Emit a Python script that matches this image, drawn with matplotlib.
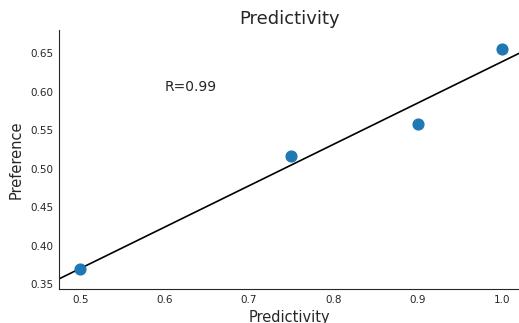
import numpy as np
import seaborn as sns
from matplotlib import pyplot as plt

sns.set_style("white")

# --- data ---
predictivity = [0.5, 0.75, 0.9, 1.0]
preference = [0.37, 0.516, 0.558, 0.655]

x = np.array(predictivity)
y = np.array(preference)
slope, intercept = np.polyfit(x, y, 1)
r = np.corrcoef(x, y)[0, 1]

fig = plt.figure(figsize=(5.19, 3.23), dpi=100)
ax = fig.add_axes([0.114, 0.105, 0.886, 0.802])

ax.scatter(x, y, s=60, color="#1f77b4", zorder=3)

xlim = (0.475, 1.02)
xs = np.array(xlim)
ax.plot(xs, slope * xs + intercept, color="black", lw=1.2)

ax.text(0.6, 0.606, f"R={r:.2f}", fontsize=10, color=".15", va="center")

ax.set_xlim(*xlim)
ax.set_ylim(0.3435, 0.68)
ax.set_xticks([0.5, 0.6, 0.7, 0.8, 0.9, 1.0])
ax.set_yticks([0.35, 0.40, 0.45, 0.50, 0.55, 0.60, 0.65])
ax.set_xticklabels(["0.5", "0.6", "0.7", "0.8", "0.9", "1.0"])
ax.set_yticklabels(["0.35", "0.40", "0.45", "0.50", "0.55", "0.60", "0.65"])
ax.tick_params(labelsize=7.5, length=0, pad=4)

ax.set_title("Predictivity", fontsize=13, color=".15", pad=4)
ax.set_xlabel("Predictivity", fontsize=10.5, labelpad=4)
ax.set_ylabel("Preference", fontsize=10.5, labelpad=5)
sns.despine(ax=ax)

fig.savefig("out.png", dpi=100)
